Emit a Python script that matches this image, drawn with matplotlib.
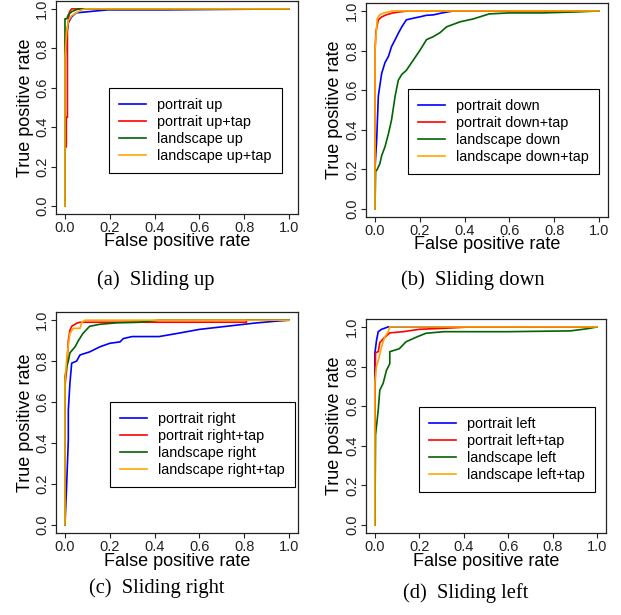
import matplotlib
matplotlib.use('Agg')
from matplotlib import pyplot as plt

# ROC points (fpr, tpr)
# (a) sliding up
up_portrait_fpr = [0, 0, 0.007, 0.015, 0.03, 0.05, 0.097, 0.19, 0.44, 1.0]
up_portrait_tpr = [0, 0.74, 0.86, 0.93, 0.96, 0.98, 0.985, 0.995, 0.995, 1.0]
up_portrait_tap_fpr = [0, 0, 0.006, 0.006, 0.011, 0.011, 0.02, 0.03, 1.0]
up_portrait_tap_tpr = [0, 0.30, 0.30, 0.45, 0.45, 0.90, 0.985, 1.0, 1.0]
up_landscape_fpr = [0, 0, 0.008, 0.015, 0.03, 0.06, 1.0]
up_landscape_tpr = [0, 0.95, 0.95, 0.97, 0.986, 1.0, 1.0]
up_landscape_tap_fpr = [0, 0, 0.007, 0.015, 0.03, 0.05, 0.075, 0.09, 1.0]
up_landscape_tap_tpr = [0, 0.75, 0.88, 0.94, 0.965, 0.98, 0.995, 1.0, 1.0]

# (b) sliding down
down_portrait_fpr = [0, 0, 0.008, 0.015, 0.03, 0.045, 0.06, 0.074, 0.09, 0.104, 0.12,
                     0.14, 0.17, 0.2, 0.23, 0.26, 0.30, 0.35, 1.0]
down_portrait_tpr = [0, 0.2, 0.36, 0.57, 0.685, 0.74, 0.77, 0.82, 0.855, 0.887, 0.92,
                     0.955, 0.963, 0.97, 0.978, 0.98, 0.99, 1.0, 1.0]
down_portrait_tap_fpr = [0, 0, 0.005, 0.015, 0.03, 0.05, 0.08, 0.11, 0.15, 1.0]
down_portrait_tap_tpr = [0, 0.8, 0.9, 0.955, 0.97, 0.98, 0.99, 0.995, 1.0, 1.0]
down_landscape_fpr = [0, 0.003, 0.01, 0.022, 0.03, 0.045, 0.06, 0.074, 0.09, 0.104, 0.12,
                      0.14, 0.17, 0.2, 0.23, 0.26, 0.29, 0.32, 0.38, 0.44, 0.51, 0.60,
                      0.75, 0.9, 1.0]
down_landscape_tpr = [0, 0.19, 0.2, 0.23, 0.27, 0.315, 0.38, 0.45, 0.57, 0.65, 0.68,
                      0.70, 0.75, 0.80, 0.855, 0.87, 0.89, 0.92, 0.945, 0.96, 0.985, 0.99,
                      0.99, 0.995, 1.0]
down_landscape_tap_fpr = [0, 0, 0.01, 0.02, 0.04, 0.06, 0.08, 1.0]
down_landscape_tap_tpr = [0, 0.8, 0.96, 0.98, 0.99, 0.995, 1.0, 1.0]

# (c) sliding right
right_portrait_fpr = [0, 0.007, 0.015, 0.015, 0.022, 0.03, 0.052, 0.067, 0.11, 0.156, 0.2,
                      0.246, 0.26, 0.30, 0.42, 0.5, 0.6, 0.72, 0.84, 0.94, 1.0]
right_portrait_tpr = [0, 0.18, 0.415, 0.56, 0.69, 0.79, 0.80, 0.83, 0.845, 0.87, 0.887,
                      0.894, 0.91, 0.92, 0.92, 0.935, 0.955, 0.97, 0.985, 0.995, 1.0]
right_portrait_tap_fpr = [0, 0, 0.007, 0.015, 0.022, 0.03, 0.052, 0.067, 0.08, 0.81, 0.81, 1.0]
right_portrait_tap_tpr = [0, 0.68, 0.75, 0.90, 0.95, 0.97, 0.985, 0.99, 0.99, 0.99, 1.0, 1.0]
right_landscape_fpr = [0, 0, 0.007, 0.015, 0.022, 0.045, 0.06, 0.08, 0.11, 0.156, 0.23,
                       0.33, 0.42, 1.0]
right_landscape_tpr = [0, 0.72, 0.77, 0.80, 0.84, 0.87, 0.90, 0.935, 0.97, 0.98, 0.987,
                       0.99, 1.0, 1.0]
right_landscape_tap_fpr = [0, 0, 0.007, 0.015, 0.022, 0.037, 0.067, 0.075, 0.09, 1.0]
right_landscape_tap_tpr = [0, 0.70, 0.80, 0.88, 0.935, 0.96, 0.96, 0.99, 1.0, 1.0]

# (d) sliding left
left_portrait_fpr = [0, 0, 0.007, 0.015, 0.03, 0.06, 1.0]
left_portrait_tpr = [0, 0.867, 0.93, 0.976, 0.988, 1.0, 1.0]
left_portrait_tap_fpr = [0, 0, 0.003, 0.015, 0.022, 0.037, 0.067, 0.127, 0.2, 0.31, 0.43, 1.0]
left_portrait_tap_tpr = [0, 0.58, 0.87, 0.875, 0.92, 0.94, 0.97, 0.976, 0.988, 0.993, 1.0, 1.0]
left_landscape_fpr = [0, 0.003, 0.015, 0.022, 0.037, 0.052, 0.067, 0.067, 0.11, 0.14, 0.19,
                      0.23, 0.31, 0.6, 0.88, 0.95, 1.0]
left_landscape_tpr = [0, 0.455, 0.58, 0.68, 0.715, 0.78, 0.815, 0.875, 0.89, 0.925, 0.95,
                      0.968, 0.976, 0.976, 0.98, 0.99, 1.0]
left_landscape_tap_fpr = [0, 0, 0.007, 0.015, 0.03, 0.045, 0.06, 0.067, 1.0]
left_landscape_tap_tpr = [0, 0.72, 0.80, 0.83, 0.90, 0.95, 0.976, 1.0, 1.0]

tick_values = [0.0, 0.2, 0.4, 0.6, 0.8, 1.0]
tick_labels = ['0.0', '0.2', '0.4', '0.6', '0.8', '1.0']
colors = ['#0000FF', '#FF0000', '#006400', '#FFA500']

W, H = 621, 615


def px_axes(fig, left, top, right, bottom):
    return fig.add_axes([left / W, 1 - bottom / H, (right - left) / W, (bottom - top) / H])


def draw_panel(ax, curves, labels, legend_xy, caption, caption_xy):
    for (fpr, tpr), color, label in zip(curves, colors, labels):
        ax.plot(fpr, tpr, color=color, lw=1.2, label=label)
    ax.set_xlim(-0.04, 1.04)
    ax.set_ylim(-0.04, 1.04)
    ax.set_xticks(tick_values)
    ax.set_xticklabels(tick_labels)
    ax.set_yticks(tick_values)
    ax.set_yticklabels(tick_labels, rotation=90, va='center')
    ax.tick_params(direction='out', length=3.6, width=0.8, pad=1.2, labelsize=10.5,
                   colors='#222222')
    for spine in ax.spines.values():
        spine.set_color('#222222')
        spine.set_linewidth(0.9)

    ax.set_xlabel('False positive rate', fontsize=13)
    ax.set_ylabel('True positive rate', fontsize=13)
    bbox = ax.get_position()
    w_px = bbox.width * W
    h_px = bbox.height * H
    ax.xaxis.label.set_va('center')
    ax.xaxis.set_label_coords(0.5, -28 / h_px)
    ax.yaxis.label.set_va('center')
    ax.yaxis.set_label_coords(-31 / w_px, 0.5)

    leg = ax.legend(loc='upper left', bbox_to_anchor=legend_xy, fontsize=10.4,
                    handlelength=1.85, handletextpad=0.75, labelspacing=0.19,
                    borderpad=0.72, borderaxespad=0, fancybox=False, framealpha=1)
    leg.get_frame().set_edgecolor('black')
    leg.get_frame().set_linewidth(0.8)

    fig = ax.figure
    fig.text(caption_xy[0] / W, 1 - caption_xy[1] / H, caption, ha='center', va='center',
             family='Liberation Serif', fontsize=14.8)


def main():
    plt.rcParams['font.family'] = ['Liberation Sans', 'DejaVu Sans']
    fig = plt.figure(figsize=(6.21, 6.15), dpi=100)

    ax_a = px_axes(fig, 56, 1, 298, 214)
    draw_panel(ax_a,
               [(up_portrait_fpr, up_portrait_tpr), (up_portrait_tap_fpr, up_portrait_tap_tpr),
                (up_landscape_fpr, up_landscape_tpr), (up_landscape_tap_fpr, up_landscape_tap_tpr)],
               ['portrait up', 'portrait up+tap', 'landscape up', 'landscape up+tap'],
               ((109 - 56) / 242, 1 - (88 - 1) / 213), '(a)  Sliding up', (156, 280))

    ax_b = px_axes(fig, 366, 3, 608, 217)
    draw_panel(ax_b,
               [(down_portrait_fpr, down_portrait_tpr), (down_portrait_tap_fpr, down_portrait_tap_tpr),
                (down_landscape_fpr, down_landscape_tpr), (down_landscape_tap_fpr, down_landscape_tap_tpr)],
               ['portrait down', 'portrait down+tap', 'landscape down', 'landscape down+tap'],
               ((408 - 366) / 242, 1 - (89 - 3) / 214), '(b)  Sliding down', (473, 280))

    ax_c = px_axes(fig, 56, 312, 298, 533)
    draw_panel(ax_c,
               [(right_portrait_fpr, right_portrait_tpr), (right_portrait_tap_fpr, right_portrait_tap_tpr),
                (right_landscape_fpr, right_landscape_tpr), (right_landscape_tap_fpr, right_landscape_tap_tpr)],
               ['portrait right', 'portrait right+tap', 'landscape right', 'landscape right+tap'],
               ((110 - 56) / 242, 1 - (402 - 312) / 221), '(c)  Sliding right', (157, 588))

    ax_d = px_axes(fig, 366, 319, 606, 533)
    draw_panel(ax_d,
               [(left_portrait_fpr, left_portrait_tpr), (left_portrait_tap_fpr, left_portrait_tap_tpr),
                (left_landscape_fpr, left_landscape_tpr), (left_landscape_tap_fpr, left_landscape_tap_tpr)],
               ['portrait left', 'portrait left+tap', 'landscape left', 'landscape left+tap'],
               ((419 - 366) / 240, 1 - (407 - 319) / 214), '(d)  Sliding left', (466, 593))

    fig.savefig('out.png', dpi=100)


if __name__ == '__main__':
    main()
